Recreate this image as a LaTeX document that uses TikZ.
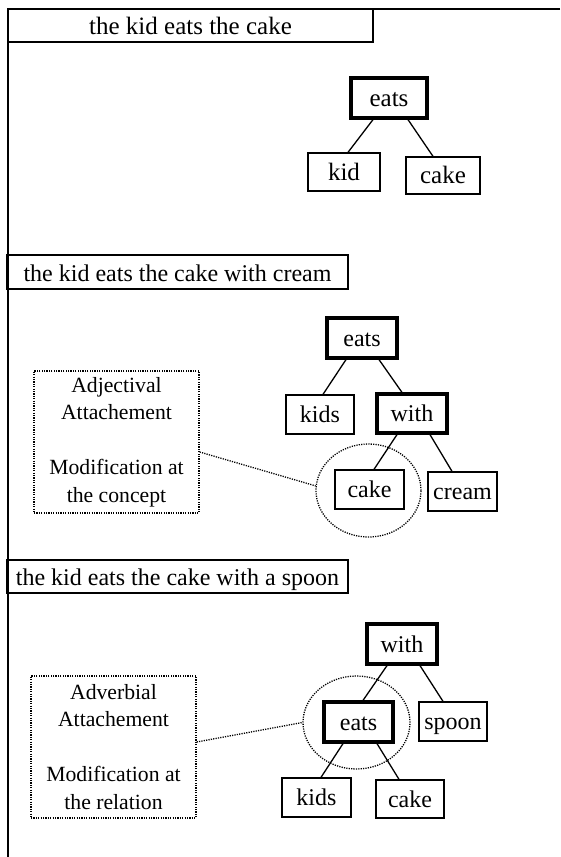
\documentclass[tikz,border=0pt]{standalone}
\usepackage{fontspec}
\setmainfont{Liberation Serif}
\usetikzlibrary{shapes.geometric,calc}

\tikzset{
  word/.style={draw, line width=1.3pt, inner sep=0pt, text height=19pt, text depth=3pt,
    font=\fontsize{24}{27}\selectfont},
  wordbig/.style={word, font=\fontsize{25}{28}\selectfont},
  head/.style={word, line width=3.2pt},
  headbig/.style={wordbig, line width=3.2pt},
  title/.style={draw, line width=1.5pt, inner sep=0pt, text height=20pt, text depth=2pt,
    font=\fontsize{24}{27}\selectfont},
  link/.style={line width=1.3pt},
  dots/.style={line width=1.3pt, dash pattern=on 1.2pt off 1.2pt},
  note/.style={draw, dots, inner sep=0pt, align=center, font=\fontsize{21.7}{27.5}\selectfont},
  focus/.style={draw, dots, ellipse, inner sep=0pt}
}

\begin{document}
\begin{tikzpicture}[x=1pt, y=-1pt]
\useasboundingbox (0,0) rectangle (560,857);

% frame along the top and the left side
\coordinate (frameTR) at (560,9);
\coordinate (frameTL) at (8,9);
\coordinate (frameBL) at (8,857);
\draw[line width=1.5pt] (frameTR) -- (frameTL) -- (frameBL);

% ---------- the kid eats the cake ----------
\node[title, font=\fontsize{25}{28}\selectfont, minimum width=365pt, minimum height=33pt] (t1) at (190.5,25.5) {the kid eats the cake};

\node[headbig, minimum width=76pt, minimum height=40pt] (a-eats) at (389,98) {eats};
\node[wordbig, minimum width=72pt, minimum height=38pt] (a-kid) at (344,172) {kid};
\node[wordbig, minimum width=74pt, minimum height=37pt] (a-cake) at (443,175.5) {cake};
\draw[link] ($(a-eats.south)+(-16,0)$) -- ($(a-kid.north)+(4,0)$);
\draw[link] ($(a-eats.south)+(19,0)$) -- ($(a-cake.north)+(-10,0)$);

% ---------- the kid eats the cake with cream ----------
\node[title, minimum width=341pt, minimum height=34pt] (t2) at (177.5,272) {the kid eats the cake with cream};

\node[head, minimum width=70pt, minimum height=40pt] (b-eats) at (362,338) {eats};
\node[word, minimum width=68pt, minimum height=39pt] (b-kids) at (320,414.5) {kids};
\node[head, minimum width=70pt, minimum height=39pt] (b-with) at (412,413.5) {with};
\node[word, minimum width=69pt, minimum height=39pt] (b-cake) at (369.5,489.5) {cake};
\node[word, minimum width=69pt, minimum height=39pt] (b-cream) at (462.5,491.5) {cream};
\draw[link] ($(b-eats.south)+(-16,0)$) -- ($(b-kids.north)+(3,0)$);
\draw[link] ($(b-eats.south)+(17,0)$) -- ($(b-with.north)+(-10,0)$);
\draw[link] ($(b-with.south)+(-15,0)$) -- ($(b-cake.north)+(4.5,0)$);
\draw[link] ($(b-with.south)+(18,0)$) -- ($(b-cream.north)+(-10.5,0)$);

\node[focus, minimum width=105pt, minimum height=93pt] (b-ring) at (368.5,490.5) {};
\node[note, minimum width=165pt, minimum height=142pt] (b-note) at (116.5,442)
  {Adjectival\\Attachement\\\mbox{}\\Modification at\\the concept};
\draw[dots] ($(b-note.east)+(0,10)$) -- (b-ring.175);

% ---------- the kid eats the cake with a spoon ----------
\node[title, minimum width=341pt, minimum height=33pt] (t3) at (177.5,576.5) {the kid eats the cake with a spoon};

\node[head, minimum width=70pt, minimum height=40pt] (c-with) at (402,644) {with};
\node[head, minimum width=69pt, minimum height=40pt] (c-eats) at (358.5,722) {eats};
\node[word, minimum width=68pt, minimum height=39pt] (c-spoon) at (453,721.5) {spoon};
\node[word, minimum width=69pt, minimum height=39pt] (c-kids) at (316.5,797.5) {kids};
\node[word, minimum width=68pt, minimum height=38pt] (c-cake) at (410,799) {cake};
\draw[link] ($(c-with.south)+(-15,0)$) -- ($(c-eats.north)+(4.5,0)$);
\draw[link] ($(c-with.south)+(18,0)$) -- ($(c-spoon.north)+(-10,0)$);
\draw[link] ($(c-eats.south)+(-15.5,0)$) -- ($(c-kids.north)+(4.5,0)$);
\draw[link] ($(c-eats.south)+(18.5,0)$) -- ($(c-cake.north)+(-11,0)$);

\node[focus, minimum width=107pt, minimum height=93pt] (c-ring) at (356.5,722.5) {};
\node[note, minimum width=165pt, minimum height=142pt] (c-note) at (113.5,747)
  {Adverbial\\Attachement\\\mbox{}\\Modification at\\the relation};
\draw[dots] ($(c-note.east)+(0,-5)$) -- (c-ring.west);
\end{tikzpicture}
\end{document}
